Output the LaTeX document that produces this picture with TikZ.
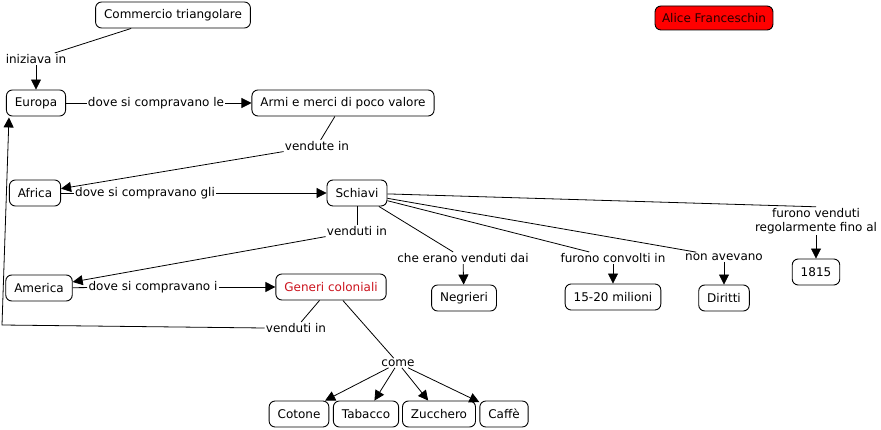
\documentclass[tikz,border=0pt]{standalone}
\usepackage{fontspec}
\setmainfont{DejaVu Sans}
\usepackage{tikz}
\usetikzlibrary{arrows.meta}
\definecolor{genred}{RGB}{204,20,30}

\begin{document}
\begin{tikzpicture}
	[x=1pt,y=-1pt,line width=0.8pt,
	every node/.style={font=\fontsize{12}{14}\selectfont},
	concept/.style={draw,rounded corners=6pt,fill=white,minimum height=26pt,inner xsep=8.5pt,line width=0.9pt},
	link/.style={inner sep=1pt,fill=white},
	arr/.style={-{Triangle[length=10pt,width=10pt]}}]
	\useasboundingbox (0,0) rectangle (881,430);
	% concetti
	\node[concept] (ct) at (173,15) {Commercio triangolare};
	\node[concept,fill=red,minimum height=24pt,inner xsep=7pt,text=black!85!red] (alice) at (714,18) {Alice Franceschin};
	\node[concept] (eu) at (36,103) {Europa};
	\node[concept] (armi) at (343,103) {Armi e merci di poco valore};
	\node[concept] (af) at (35,193) {Africa};
	\node[concept] (sc) at (357,193) {Schiavi};
	\node[concept] (am) at (39,288) {America};
	\node[concept,text=genred] (gen) at (331,287) {Generi coloniali};
	\node[concept] (cot) at (299,414) {Cotone};
	\node[concept] (tab) at (366,414) {Tabacco};
	\node[concept] (zuc) at (439,414) {Zucchero};
	\node[concept] (caf) at (504,414) {Caffè};
	\node[concept] (neg) at (464,298) {Negrieri};
	\node[concept] (mil) at (613,297) {15-20 milioni};
	\node[concept] (dir) at (724,298) {Diritti};
	\node[concept] (n1815) at (816,272) {1815};
	% frasi di collegamento
	\node[link] (ini) at (36,59) {iniziava in};
	\node[link] (le) at (156,103) {dove si compravano le};
	\node[link] (vi1) at (317,146) {vendute in};
	\node[link] (gli) at (145,193) {dove si compravano gli};
	\node[link] (vd1) at (357,231) {venduti in};
	\node[link] (ii) at (153,287) {dove si compravano i};
	\node[link] (vd2) at (296,328) {venduti in};
	\node[link] (come) at (398,363) {come};
	\node[link] (che) at (463,258) {che erano venduti dai};
	\node[link] (conv) at (613,258) {furono convolti in};
	\node[link] (non) at (724,257) {non avevano};
	\node[link,align=center] (fv) at (816,221) {furono venduti\\regolarmente fino al};
	\coordinate (bend) at (2,325);
	% collegamenti
	\draw (ct) -- (ini);
	\draw[arr] (ini) -- (eu);
	\draw (eu) -- (le);
	\draw[arr] (le) -- (armi);
	\draw (armi) -- (vi1);
	\draw[arr] (vi1) -- (af);
	\draw (af) -- (gli);
	\draw[arr] (gli) -- (sc);
	\draw (sc) -- (vd1);
	\draw[arr] (vd1) -- (am);
	\draw (am) -- (ii);
	\draw[arr] (ii) -- (gen);
	\draw (gen) -- (vd2);
	\draw[arr] (vd2.west) -- (bend) -- ([shift={(3,1)}]eu.south west);
	\draw (gen) -- (come);
	\draw[arr] (come) -- (cot);
	\draw[arr] (come) -- (tab);
	\draw[arr] (come) -- (zuc);
	\draw[arr] (come) -- (caf);
	\draw (sc) -- (che);
	\draw[arr] (che) -- (neg);
	\draw (sc) -- (conv);
	\draw[arr] (conv) -- (mil);
	\draw (sc) -- (non);
	\draw[arr] (non) -- (dir);
	\draw (sc) -- (fv.north);
	\draw[arr] (fv.south -| n1815) -- (n1815);
\end{tikzpicture}
\end{document}
